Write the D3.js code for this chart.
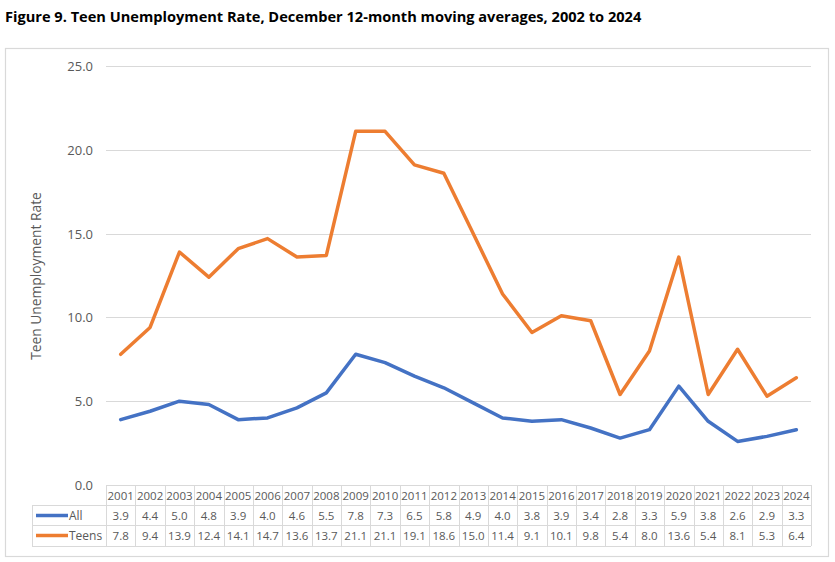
<!DOCTYPE html>
<html><head><meta charset="utf-8">
<script src="https://cdn.jsdelivr.net/npm/d3@7"></script>
<style>body{margin:0;background:#fff}svg{display:block}</style>
</head><body>
<svg id="c" width="835" height="562"></svg>
<script>
const years = ["2001","2002","2003","2004","2005","2006","2007","2008","2009","2010","2011","2012","2013","2014","2015","2016","2017","2018","2019","2020","2021","2022","2023","2024"];
const allValues = [3.9,4.4,5.0,4.8,3.9,4.0,4.6,5.5,7.8,7.3,6.5,5.8,4.9,4.0,3.8,3.9,3.4,2.8,3.3,5.9,3.8,2.6,2.9,3.3];
const teenValues = [7.8,9.4,13.9,12.4,14.1,14.7,13.6,13.7,21.1,21.1,19.1,18.6,15.0,11.4,9.1,10.1,9.8,5.4,8.0,13.6,5.4,8.1,5.3,6.4];
const yTicks = [0,5,10,15,20,25];
const seriesNames = ["All","Teens"];
const colors = ["#4472C4","#ED7D31"];

const svg = d3.select("#c");
const font = "'Open Sans', 'Liberation Sans', sans-serif";
const grey = "#595959", gridC = "#d9d9d9";

svg.append("text").attr("x",5).attr("y",22).attr("font-family",font).attr("font-weight","bold")
  .attr("font-size",14.6).attr("fill","#000")
  .text("Figure 9. Teen Unemployment Rate, December 12-month moving averages, 2002 to 2024");

svg.append("rect").attr("x",5.5).attr("y",48.5).attr("width",823).attr("height",508)
  .attr("fill","#fff").attr("stroke",gridC).attr("stroke-width",1.2);

const x = d3.scaleBand().domain(years).range([106,811]);
const y = d3.scaleLinear().domain([0,25]).range([485,66]);

svg.append("g").selectAll("line").data(yTicks.filter(d=>d>0)).join("line")
  .attr("x1",106).attr("x2",811).attr("y1",d=>Math.round(y(d))+0.5).attr("y2",d=>Math.round(y(d))+0.5)
  .attr("stroke",gridC).attr("stroke-width",1);

svg.append("g").selectAll("text").data(yTicks).join("text")
  .attr("x",93).attr("y",d=>y(d)+5).attr("text-anchor","end")
  .attr("font-family",font).attr("font-size",13).attr("fill",grey)
  .text(d=>d3.format(".1f")(d));

svg.append("text").attr("transform","translate(41,276) rotate(-90)").attr("text-anchor","middle")
  .attr("font-family",font).attr("font-size",13.8).attr("fill",grey).text("Teen Unemployment Rate");

const line = d3.line().x((d,i)=>x(years[i])+x.bandwidth()/2).y(d=>y(d));
[allValues,teenValues].forEach((vals,k)=>{
  svg.append("path").datum(vals).attr("d",line).attr("fill","none")
    .attr("stroke",colors[k]).attr("stroke-width",3.5).attr("stroke-linejoin","round").attr("stroke-linecap","round");
});

const rowTop = [485,505,525], rowBot = 546, legLeft = 32;
const tg = svg.append("g").attr("stroke",gridC).attr("stroke-width",1).attr("shape-rendering","crispEdges");
tg.append("line").attr("x1",106).attr("x2",811).attr("y1",485.5).attr("y2",485.5);
[505,525,546].forEach(yy=>tg.append("line").attr("x1",legLeft).attr("x2",811).attr("y1",yy+0.5).attr("y2",yy+0.5));
const bounds = years.map(d=>x(d)).concat([811]);
tg.selectAll("line.v").data(bounds).join("line").attr("class","v")
  .attr("x1",d=>Math.round(d)+0.5).attr("x2",d=>Math.round(d)+0.5).attr("y1",485).attr("y2",rowBot);
tg.append("line").attr("x1",legLeft+0.5).attr("x2",legLeft+0.5).attr("y1",505).attr("y2",rowBot);

const tf = {family:font,size:11.5};
function cellText(sel){return sel.attr("font-family",tf.family).attr("font-size",tf.size).attr("fill",grey).attr("text-anchor","middle");}
cellText(svg.append("g").selectAll("text").data(years).join("text"))
  .attr("x",d=>x(d)+x.bandwidth()/2).attr("y",499.5).text(d=>d);
[allValues,teenValues].forEach((vals,k)=>{
  cellText(svg.append("g").selectAll("text").data(vals).join("text"))
    .attr("x",(d,i)=>x(years[i])+x.bandwidth()/2).attr("y",rowTop[k+1]+14.5).text(d=>d3.format(".1f")(d));
  svg.append("line").attr("x1",36).attr("x2",68).attr("y1",rowTop[k+1]+10.5).attr("y2",rowTop[k+1]+10.5)
    .attr("stroke",colors[k]).attr("stroke-width",3.5);
  svg.append("text").attr("x",69).attr("y",rowTop[k+1]+14.5).attr("font-family",font).attr("font-size",12)
    .attr("fill",grey).text(seriesNames[k]);
});
</script>
</body></html>
